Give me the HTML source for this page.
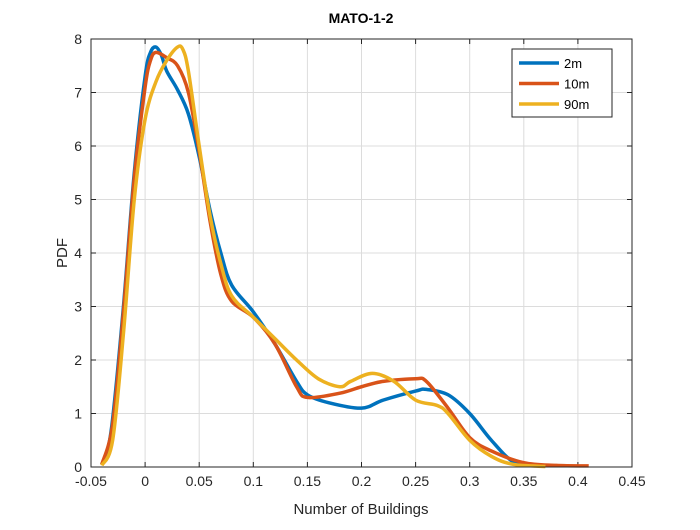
<!DOCTYPE html>
<html><head><meta charset="utf-8"><style>
body{margin:0;background:#fff;}
svg text{font-family:"Liberation Sans",sans-serif;}
</style></head><body>
<svg id="c" width="700" height="525"></svg>
<script>
const xTicks=[-0.05,0,0.05,0.1,0.15,0.2,0.25,0.3,0.35,0.4,0.45];
const xTickLabels=["-0.05","0","0.05","0.1","0.15","0.2","0.25","0.3","0.35","0.4","0.45"];
const yTicks=[0,1,2,3,4,5,6,7,8];
const seriesNames=["2m","10m","90m"];
const x2m=[-0.04,-0.035,-0.03,-0.02,-0.01,0,0.005,0.01,0.015,0.02,0.03,0.04,0.05,0.06,0.07,0.08,0.1,0.12,0.14,0.15,0.17,0.2,0.22,0.25,0.26,0.28,0.3,0.32,0.34,0.36];
const y2m=[0.05,0.3,0.9,3.0,5.5,7.3,7.75,7.85,7.7,7.4,7.05,6.6,5.8,4.8,4.0,3.4,2.9,2.3,1.6,1.35,1.2,1.1,1.25,1.42,1.45,1.35,1.0,0.5,0.1,0.02];
const x10m=[-0.04,-0.03,-0.02,-0.01,0,0.005,0.01,0.02,0.03,0.04,0.05,0.06,0.07,0.08,0.1,0.12,0.14,0.15,0.18,0.2,0.22,0.25,0.26,0.28,0.3,0.32,0.35,0.38,0.41];
const y10m=[0.05,0.8,2.9,5.4,7.1,7.6,7.75,7.65,7.5,7.0,5.9,4.6,3.6,3.1,2.8,2.3,1.5,1.3,1.38,1.5,1.6,1.65,1.6,1.1,0.55,0.3,0.08,0.03,0.02];
const x90m=[-0.04,-0.03,-0.02,-0.01,0,0.01,0.02,0.03,0.035,0.04,0.05,0.06,0.07,0.08,0.1,0.12,0.14,0.16,0.18,0.19,0.21,0.23,0.25,0.27,0.28,0.3,0.32,0.34,0.37];
const y90m=[0.03,0.5,2.5,5.0,6.5,7.2,7.6,7.85,7.8,7.4,6.0,4.7,3.8,3.2,2.8,2.4,2.0,1.65,1.5,1.6,1.75,1.6,1.25,1.15,1.0,0.5,0.2,0.05,0.01];
const colors=["#0072BD","#D95319","#EDB120"];
const X0=91,X1=632,Y0=467,Y1=39;
const sx=v=>X0+(v+0.05)/0.5*(X1-X0);
const sy=v=>Y0-v/8*(Y0-Y1);
const NS="http://www.w3.org/2000/svg";
const svg=document.getElementById('c');
function mk(t,a){const e=document.createElementNS(NS,t);for(const k in a)e.setAttribute(k,a[k]);svg.appendChild(e);return e;}
let bg=mk('rect',{x:X0,y:Y1,width:X1-X0,height:Y0-Y1,fill:'#fff'});


xTicks.forEach((t,i)=>{
 const x=sx(t);
 let g=mk('line',{x1:x,x2:x,y1:Y1,y2:Y0,stroke:'#dcdcdc','stroke-width':1});
 
 
 mk('line',{x1:x,x2:x,y1:Y0,y2:Y0-5,stroke:'#262626'});
 mk('line',{x1:x,x2:x,y1:Y1,y2:Y1+5,stroke:'#262626'});
 let l=mk('text',{x:x,y:Y0+19,'text-anchor':'middle','font-size':14,fill:'#262626'});
 l.textContent=xTickLabels[i];
 
 
});
yTicks.forEach(t=>{
 const y=sy(t);
 let g=mk('line',{x1:X0,x2:X1,y1:y,y2:y,stroke:'#dcdcdc','stroke-width':1});
 
 
 mk('line',{x1:X0,x2:X0+5,y1:y,y2:y,stroke:'#262626'});
 mk('line',{x1:X1,x2:X1-5,y1:y,y2:y,stroke:'#262626'});
 let l=mk('text',{x:X0-9,y:y+5,'text-anchor':'end','font-size':14,fill:'#262626'});
 l.textContent=String(t);
 
 
});
function path(xs,ys){
 const p=xs.map((v,i)=>[sx(v),sy(ys[i])]);
 let d='M'+p[0][0]+','+p[0][1];
 for(let i=0;i<p.length-1;i++){
  const a=p[i-1]||p[i],b=p[i],c=p[i+1],e=p[i+2]||c;
  const c1=[b[0]+(c[0]-a[0])/6,b[1]+(c[1]-a[1])/6],c2=[c[0]-(e[0]-b[0])/6,c[1]-(e[1]-b[1])/6];
  d+=` C${c1[0]},${c1[1]} ${c2[0]},${c2[1]} ${c[0]},${c[1]}`;
 }
 return d;
}
const data=[[x2m,y2m],[x10m,y10m],[x90m,y90m]];
data.forEach((s,i)=>{
 let p=mk('path',{d:path(s[0],s[1]),fill:'none',stroke:colors[i],'stroke-width':3.5,'stroke-linejoin':'round'});
 
 
});
let box=mk('rect',{x:X0,y:Y1,width:X1-X0,height:Y0-Y1,fill:'none',stroke:'#262626','stroke-width':1});


let lg=mk('rect',{x:512,y:49,width:100,height:68,fill:'#fff',stroke:'#262626'});


seriesNames.forEach((n,i)=>{
 const y=63+i*20.5;
 let ln=mk('line',{x1:519,x2:559,y1:y,y2:y,stroke:colors[i],'stroke-width':3.5});
 
 
 let t=mk('text',{x:564,y:y+5,'font-size':13,fill:'#000'});
 t.textContent=n;
 
 
});
let ti=mk('text',{x:361,y:23,'text-anchor':'middle','font-size':14,'font-weight':'bold',fill:'#000'});
ti.textContent='MATO-1-2';


let xt=mk('text',{x:361,y:514,'text-anchor':'middle','font-size':15,fill:'#262626'});
xt.textContent='Number of Buildings';


let yt=mk('text',{x:67,y:253,'text-anchor':'middle','font-size':15,fill:'#262626',transform:'rotate(-90 67 253)'});
yt.textContent='PDF';


</script>
</body></html>
